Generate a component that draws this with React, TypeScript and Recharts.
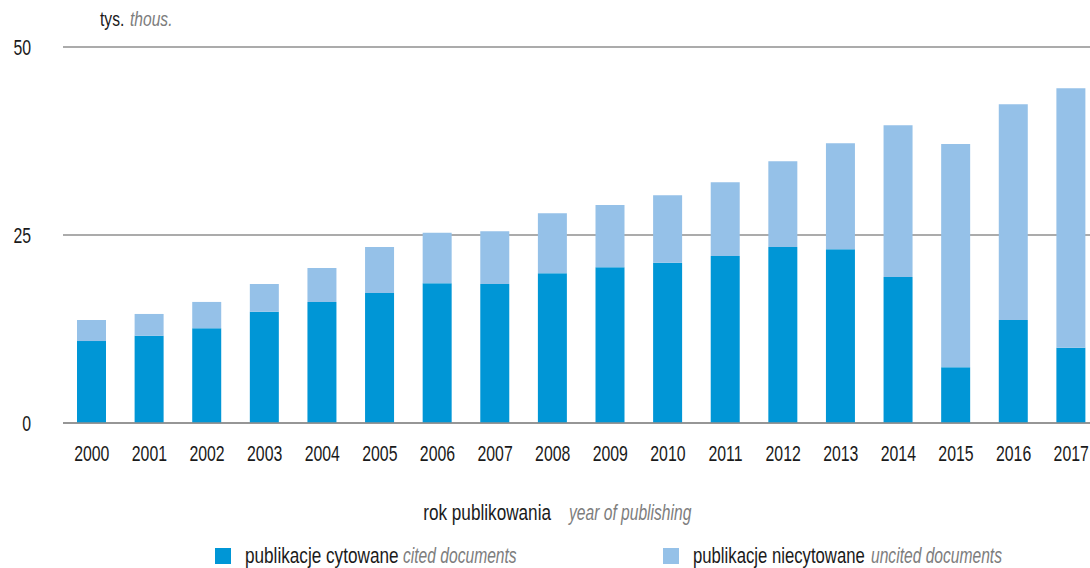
import React from 'react';
import { BarChart, Bar, XAxis, YAxis, CartesianGrid } from 'recharts';

const years = ['2000', '2001', '2002', '2003', '2004', '2005', '2006', '2007', '2008', '2009', '2010', '2011', '2012', '2013', '2014', '2015', '2016', '2017'];
const cited = [10.9, 11.6, 12.6, 14.8, 16.1, 17.3, 18.6, 18.5, 19.9, 20.7, 21.3, 22.2, 23.4, 23.1, 19.4, 7.4, 13.7, 10.0];
const uncited = [2.8, 2.9, 3.5, 3.7, 4.5, 6.1, 6.7, 7.0, 8.0, 8.3, 9.0, 9.8, 11.4, 14.1, 20.2, 29.7, 28.7, 34.5];
const yTicks = [0, 25, 50];

const data = years.map((year, i) => ({ year, cited: cited[i], uncited: uncited[i] }));

// narrow look: Liberation Sans squeezed horizontally
const FONT = "'Liberation Sans', Arial, sans-serif";
const SQ = 0.78;
const SQ_NUM = 0.72;
const SQ_IT = 0.71;
const DARK = '#1a1a1a';
const GREY = '#7d7d7d';
const CITED = '#0096d6';
const UNCITED = '#95c1e8';

const YTick = ({ y, payload }: any) => (
  <text transform={`translate(31,${y + 8}) scale(${SQ_NUM},1)`} textAnchor="end" fontSize={22} fill={DARK} fontFamily={FONT}>
    {payload.value}
  </text>
);

const XTick = ({ x, y, payload }: any) => (
  <text transform={`translate(${x},${y + 30}) scale(${SQ_NUM},1)`} textAnchor="middle" fontSize={22} fill={DARK} fontFamily={FONT}>
    {payload.value}
  </text>
);

const squeeze = (x: number, y: number, s: number) => `translate(${x},${y}) scale(${s},1)`;

export default function App() {
  return (
    <div style={{ position: 'absolute', left: 0, top: 0, width: 1090, height: 568, overflow: 'hidden', background: '#fff' }}>
      <BarChart width={1100} height={568} data={data} margin={{ top: 47, right: 0, left: 0, bottom: 115 }}>
        <CartesianGrid vertical={false} stroke="#8f8f8f" strokeWidth={1.5} />
        <XAxis
          dataKey="year"
          height={30}
          tickLine={false}
          axisLine={{ stroke: '#8f8f8f', strokeWidth: 1.5 }}
          tick={<XTick />}
          interval={0}
        />
        <YAxis width={63} domain={[0, 50]} ticks={yTicks} axisLine={false} tickLine={false} tick={<YTick />} />
        <Bar dataKey="cited" stackId="a" fill={CITED} barSize={29} isAnimationActive={false} />
        <Bar dataKey="uncited" stackId="a" fill={UNCITED} barSize={29} isAnimationActive={false} />
      </BarChart>
      <svg width={1090} height={568} style={{ position: 'absolute', left: 0, top: 0, pointerEvents: 'none' }} fontFamily={FONT}>
        <text transform={squeeze(100, 26, SQ)} fontSize={20} fill={DARK}>tys.</text>
        <text transform={squeeze(130, 26, SQ)} fontSize={20} fill={GREY} fontStyle="italic">thous.</text>

        <text transform={squeeze(551, 520, SQ)} textAnchor="end" fontSize={22} fill={DARK}>rok publikowania</text>
        <text transform={squeeze(569, 520, SQ_IT)} fontSize={22} fill={GREY} fontStyle="italic">year of publishing</text>

        <rect x={215} y={548} width={16} height={16} fill={CITED} />
        <text transform={squeeze(245, 563, SQ)} fontSize={22} fill={DARK}>publikacje cytowane</text>
        <text transform={squeeze(403, 563, SQ_IT)} fontSize={22} fill={GREY} fontStyle="italic">cited documents</text>

        <rect x={663} y={548} width={16} height={16} fill={UNCITED} />
        <text transform={squeeze(693, 563, 0.76)} fontSize={22} fill={DARK}>publikacje niecytowane</text>
        <text transform={squeeze(871, 563, SQ_IT)} fontSize={22} fill={GREY} fontStyle="italic">uncited documents</text>
      </svg>
    </div>
  );
}
